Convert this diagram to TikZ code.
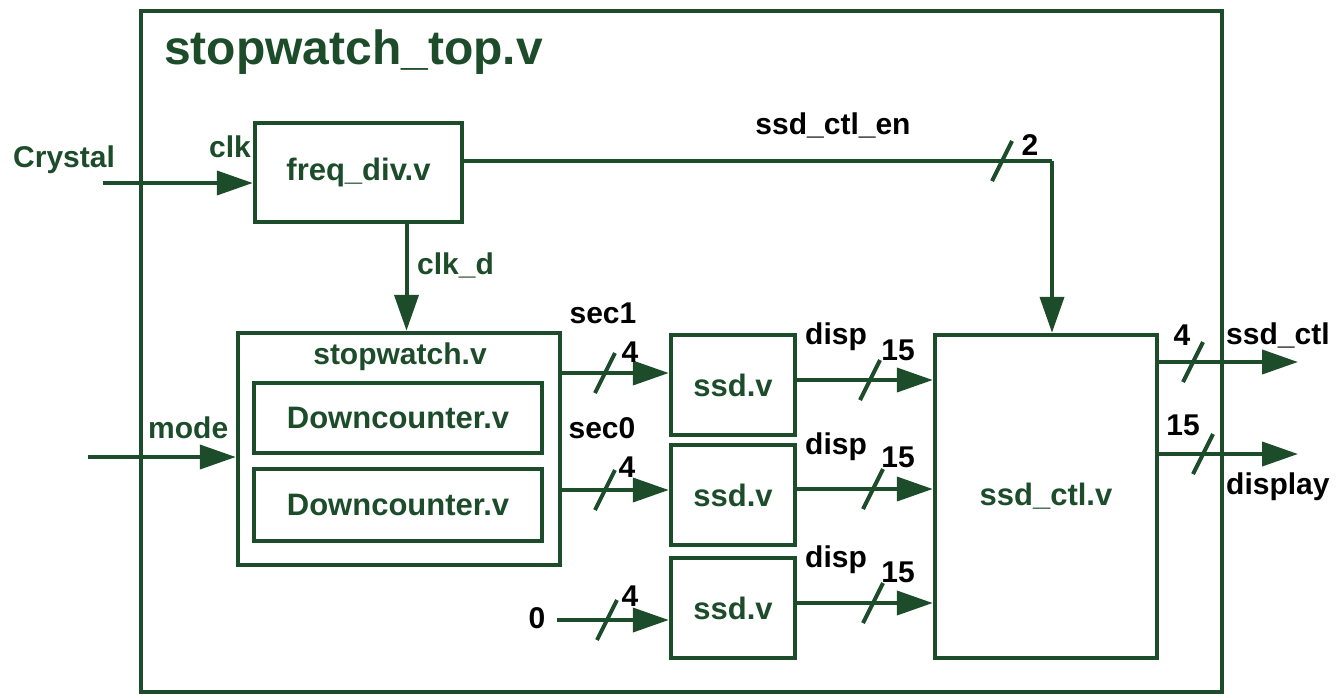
\documentclass[tikz,border=0pt]{standalone}
\usepackage{fontspec}
\setmainfont{Liberation Sans}
\usetikzlibrary{arrows.meta}
\definecolor{wiregreen}{RGB}{28,76,42}

\begin{document}
\begin{tikzpicture}[x=1pt, y=-1pt,
    blk/.style={draw=wiregreen, line width=4.5pt, rectangle, inner sep=0pt},
    modtext/.style={text=wiregreen, font=\fontsize{31}{36}\selectfont\bfseries},
    lbl/.style={text=black, font=\fontsize{30}{34}\selectfont\bfseries, inner sep=0pt},
    glbl/.style={lbl, text=wiregreen},
    wire/.style={draw=wiregreen, line width=4pt},
    sig/.style={wire, -{Triangle[length=36pt,width=24pt]}}]
    \useasboundingbox (0,0) rectangle (1344,697);

    % Top level frame
    \node[blk, line width=4pt, minimum width=1081pt, minimum height=681pt] (top) at (681.5,351.5) {};
    \node[glbl, anchor=west, font=\fontsize{48}{54}\selectfont\bfseries] (title) at (164,52) {stopwatch\_top.v};

    % Sub modules
    \node[blk, modtext, minimum width=207pt, minimum height=99pt] (fd) at (358.5,172.5) {freq\_div.v};
    \node[blk, minimum width=322pt, minimum height=232pt] (sw) at (399,449) {};
    \node[glbl] (swname) at (400,357) {stopwatch.v};
    \node[blk, modtext, minimum width=288pt, minimum height=70pt] (dc1) at (398,418) {Downcounter.v};
    \node[blk, modtext, minimum width=288pt, minimum height=72pt] (dc2) at (398,505) {Downcounter.v};
    \node[blk, modtext, minimum width=124pt, minimum height=100pt] (ssd1) at (733,385) {ssd.v};
    \node[blk, modtext, minimum width=124pt, minimum height=100pt] (ssd2) at (733,495) {ssd.v};
    \node[blk, modtext, minimum width=124pt, minimum height=100pt] (ssd3) at (733,608) {ssd.v};
    \node[blk, modtext, minimum width=222pt, minimum height=323pt] (ctl) at (1046,496.5) {ssd\_ctl.v};

    % Free ends
    \coordinate (xin) at (103,183);
    \coordinate (modein) at (88,457);
    \coordinate (zin) at (557,620);
    \coordinate (en) at (1052,161);
    \coordinate (out1) at (1298,362);
    \coordinate (out2) at (1298,454);

    % Inputs
    \node[glbl, anchor=west] (crystal) at (13,160) {Crystal};
    \node[glbl, anchor=east] (clk) at (251,147) {clk};
    \draw[sig] (xin) -- (xin -| fd.west);
    \node[glbl, anchor=west] (mode) at (148,428) {mode};
    \draw[sig] (modein) -- (modein -| sw.west);
    \node[lbl] (zero) at (537,618) {0};

    % clk_d
    \draw[sig] ([xshift=48pt]fd.south) -- ([xshift=48pt]fd.south |- sw.north);
    \node[glbl, anchor=west] (clkd) at (417,265) {clk\_d};

    % ssd_ctl_en
    \draw[wire] ([yshift=11.5pt]fd.east) -- (en);
    \draw[sig] (en) -- (en |- ctl.north);
    \node[lbl] (enlbl) at (833,125) {ssd\_ctl\_en};
    \node[lbl] (en2) at (1030,145) {2};

    % seconds into ssd
    \draw[sig] ([yshift=76pt]sw.east) -- ([yshift=76pt]sw.east -| ssd1.west);
    \draw[sig] ([yshift=-41pt]sw.east) -- ([yshift=-41pt]sw.east -| ssd2.west);
    \draw[sig] (zin) -- (zin -| ssd3.west);
    \node[lbl] (sec1) at (603,313) {sec1};
    \node[lbl] (sec0) at (602,428) {sec0};
    \node[lbl] (w1) at (630,352) {4};
    \node[lbl] (w2) at (627,467) {4};
    \node[lbl] (w3) at (630,596) {4};

    % disp into ssd_ctl
    \draw[sig] ([yshift=5pt]ssd1.east) -- ([yshift=5pt]ssd1.east -| ctl.west);
    \draw[sig] ([yshift=6pt]ssd2.east) -- ([yshift=6pt]ssd2.east -| ctl.west);
    \draw[sig] ([yshift=5pt]ssd3.east) -- ([yshift=5pt]ssd3.east -| ctl.west);
    \node[lbl] (d1) at (836,337) {disp};
    \node[lbl] (d2) at (836,447) {disp};
    \node[lbl] (d3) at (836,560) {disp};
    \node[lbl] (n1) at (898,350) {15};
    \node[lbl] (n2) at (898,457) {15};
    \node[lbl] (n3) at (898,572) {15};

    % Outputs
    \draw[sig] (out1 -| ctl.east) -- (out1);
    \draw[sig] (out2 -| ctl.east) -- (out2);
    \node[lbl] (o1) at (1182,335) {4};
    \node[lbl] (o2) at (1183,425) {15};
    \node[lbl, anchor=west] (ctlout) at (1226,335) {ssd\_ctl};
    \node[lbl, anchor=west] (dispout) at (1226,487) {display};

    % Bus width marks
    \foreach \bx/\by in {605/373, 605/490, 607/620, 870/380, 873/489, 873/603, 1002/161, 1193/362, 1203/454}
        \draw[wire] (\bx-10,\by+20) -- (\bx+10,\by-20);
\end{tikzpicture}
\end{document}
